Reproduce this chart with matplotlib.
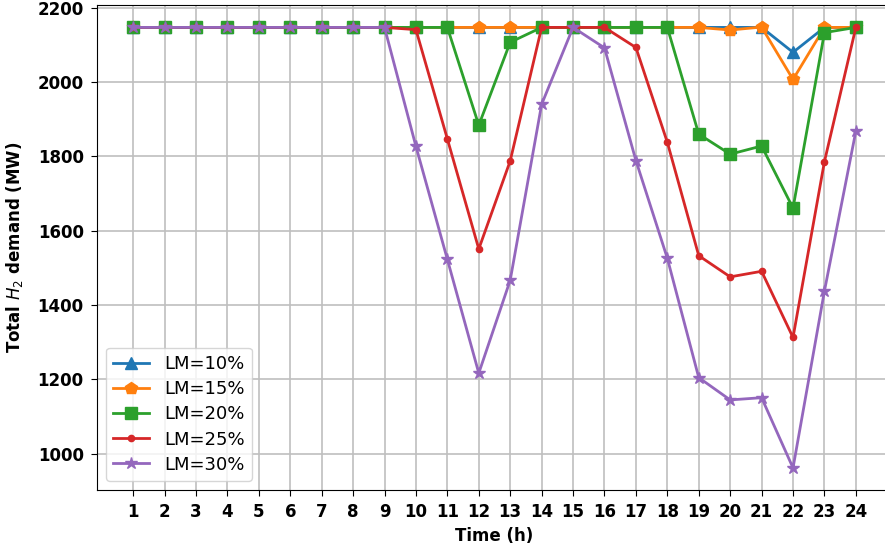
import matplotlib
matplotlib.use('Agg')
import matplotlib.pyplot as plt

# hours of the day
hours = list(range(1, 25))

# total H2 demand (MW) for each load margin
lm10 = [2147] * 21 + [2080, 2147, 2147]
lm15 = [2147] * 19 + [2140, 2148, 2007, 2147, 2147]
lm20 = [2147] * 11 + [1884, 2107] + [2147] * 5 + [1860, 1806, 1828, 1661, 2133, 2147]
lm25 = [2147] * 9 + [2141, 1847, 1551, 1788, 2147, 2147, 2147, 2093, 1838,
                     1533, 1476, 1491, 1313, 1786, 2147]
lm30 = [2147] * 9 + [1827, 1523, 1217, 1467, 1940, 2147, 2092, 1789, 1526,
                     1205, 1145, 1151, 962, 1438, 1868]

series = [
    (lm10, 'LM=10%', '^', 8),
    (lm15, 'LM=15%', 'p', 9),
    (lm20, 'LM=20%', 's', 8),
    (lm25, 'LM=25%', '.', 9),
    (lm30, 'LM=30%', '*', 9),
]

fig = plt.figure(figsize=(8.85, 5.52), dpi=100)
# right edge of the axes falls just past the figure edge, as in the original
ax = fig.add_axes([97 / 885, 62 / 552, 795 / 885, 485 / 552])

for values, label, marker, ms in series:
    ax.plot(hours, values, marker=marker, markersize=ms, linewidth=2, label=label)

ax.set_xlim(-0.15, 25.15)
ax.set_xticks(hours)
ax.grid(True, color='#bfbfbf', linewidth=1.2)
ax.set_axisbelow(True)
ax.tick_params(length=4.5, pad=5)

for lbl in ax.get_xticklabels() + ax.get_yticklabels():
    lbl.set_fontweight('bold')
    lbl.set_fontsize(12)

ax.set_xlabel('Time (h)', fontsize=12, fontweight='bold', labelpad=4)
ax.set_ylabel('Total $H_2$ demand (MW)', fontsize=12, fontweight='bold', labelpad=9)

ax.legend(loc='lower left', fontsize=13, labelspacing=0.4)

fig.savefig('out.png', dpi=100)
